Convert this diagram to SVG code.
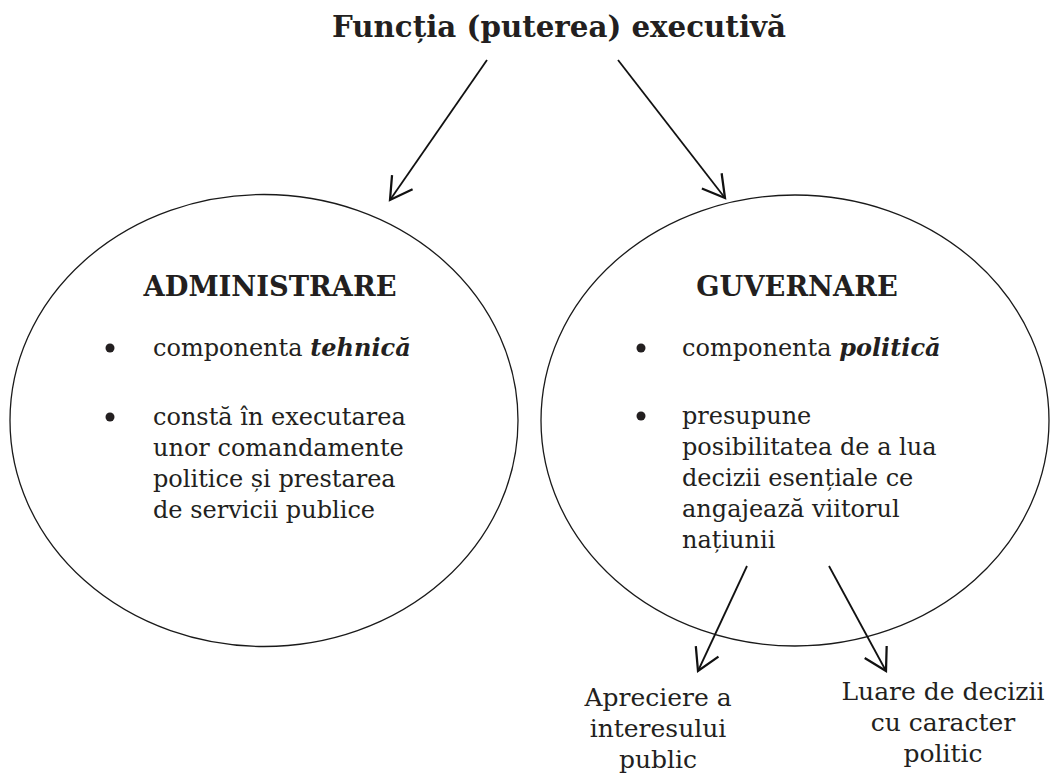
<svg xmlns="http://www.w3.org/2000/svg" width="1051" height="776" viewBox="0 0 1051 776">
  <style>
    text { font-family: "DejaVu Serif", "Liberation Serif", serif; fill: #231f20; }
    .title { font-size: 29.3px; font-weight: bold; }
    .head { font-size: 27.3px; font-weight: bold; }
    .body { font-size: 24px; }
    .lbl { font-size: 25px; }
    .em { font-weight: bold; font-style: italic; }
    .oval { fill: none; stroke: #1a1a1a; stroke-width: 1.3; }
    .conn { stroke: #111; stroke-width: 1.8; fill: none; }
  </style>
  <defs>
    <marker id="vee" markerUnits="userSpaceOnUse" markerWidth="30" markerHeight="30" refX="0" refY="0" viewBox="-20 -12 22 24" orient="auto" overflow="visible">
      <path d="M -17.3 -10 L 0 0 L -17.3 10" fill="none" stroke="#111" stroke-width="1.8"/>
    </marker>
  </defs>
  <rect width="1051" height="776" fill="#ffffff"/>

  <g id="title">
    <text class="title" x="559" y="37" text-anchor="middle">Funcția (puterea) executivă</text>
  </g>

  <g id="administrare">
    <ellipse class="oval" cx="264" cy="420.5" rx="254" ry="226"/>
    <text class="head" x="270" y="296" text-anchor="middle">ADMINISTRARE</text>
    <circle cx="110" cy="348" r="4.5" fill="#231f20"/>
    <text class="body" x="153" y="356">componenta <tspan class="em">tehnică</tspan></text>
    <circle cx="110" cy="417" r="4.5" fill="#231f20"/>
    <text class="body" x="153" y="425">constă în executarea</text>
    <text class="body" x="153" y="456">unor comandamente</text>
    <text class="body" x="153" y="487">politice și prestarea</text>
    <text class="body" x="153" y="518">de servicii publice</text>
  </g>

  <g id="guvernare">
    <ellipse class="oval" cx="795" cy="420.5" rx="254" ry="225.5"/>
    <text class="head" x="797" y="296" text-anchor="middle">GUVERNARE</text>
    <circle cx="641" cy="348" r="4.5" fill="#231f20"/>
    <text class="body" x="682" y="356">componenta <tspan class="em">politică</tspan></text>
    <circle cx="641" cy="416" r="4.5" fill="#231f20"/>
    <text class="body" x="682" y="424">presupune</text>
    <text class="body" x="682" y="455">posibilitatea de a lua</text>
    <text class="body" x="682" y="486">decizii esențiale ce</text>
    <text class="body" x="682" y="517">angajează viitorul</text>
    <text class="body" x="682" y="548">națiunii</text>
  </g>

  <g id="apreciere">
    <text class="lbl" x="658" y="706" text-anchor="middle">Apreciere a</text>
    <text class="lbl" x="658" y="737" text-anchor="middle">interesului</text>
    <text class="lbl" x="658" y="768" text-anchor="middle">public</text>
  </g>

  <g id="luare">
    <text class="lbl" x="943" y="700" text-anchor="middle">Luare de decizii</text>
    <text class="lbl" x="943" y="731" text-anchor="middle">cu caracter</text>
    <text class="lbl" x="943" y="762" text-anchor="middle">politic</text>
  </g>

  <g id="connectors">
    <line class="conn" x1="487" y1="60" x2="390" y2="200" marker-end="url(#vee)"/>
    <line class="conn" x1="618" y1="60" x2="725" y2="198" marker-end="url(#vee)"/>
    <line class="conn" x1="747" y1="566" x2="698" y2="671" marker-end="url(#vee)"/>
    <line class="conn" x1="829" y1="566" x2="886" y2="671" marker-end="url(#vee)"/>
  </g>
</svg>
